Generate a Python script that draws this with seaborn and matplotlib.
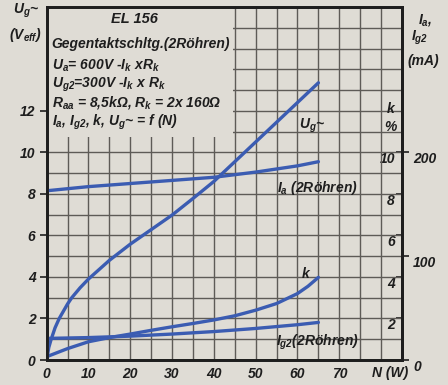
import numpy as np
import pandas as pd
import matplotlib
matplotlib.use('Agg')
import matplotlib.pyplot as plt
import seaborn as sns
from matplotlib.patches import Rectangle

# ---------------- data ----------------
n_ug = [0, 0.5, 1, 2, 3, 4, 5, 6, 8, 10, 15, 20, 25, 30, 35, 40, 45, 50, 55, 60, 65]
ug_veff = [0, 0.6, 0.95, 1.55, 2.0, 2.35, 2.7, 3.0, 3.48, 3.9, 4.8, 5.58, 6.28, 6.98, 7.78, 8.6, 9.55, 10.5, 11.45, 12.4, 13.35]

n_ia = [0, 10, 20, 30, 40, 50, 60, 65]
ia_ma = [163, 167, 170, 173, 176, 181, 187, 191]

n_k = [0, 5, 10, 15, 20, 25, 30, 35, 40, 45, 50, 55, 60, 62.5, 65]
k_pct = [0.16, 0.55, 0.88, 1.08, 1.25, 1.43, 1.6, 1.76, 1.93, 2.13, 2.4, 2.72, 3.2, 3.55, 3.98]

n_ig2 = [0, 10, 20, 30, 40, 50, 60, 65]
ig2_ma = [20.8, 21.6, 23.0, 25.0, 27.4, 30.4, 34.0, 36.2]

x_tick_vals = [0, 10, 20, 30, 40, 50, 60, 70]
x_tick_labels = ['0', '10', '20', '30', '40', '50', '60', '70']
ug_tick_vals = [0, 2, 4, 6, 8, 10, 12]
k_tick_vals = [2, 4, 6, 8, 10]
ma_tick_vals = [0, 100, 200]

info_lines = [
    'Gegentaktschltg.(2Röhren)',
    'U$_a$= 600V -I$_k$ xR$_k$',
    'U$_{g2}$=300V -I$_k$ x R$_k$',
    'R$_{aa}$ = 8,5kΩ, R$_k$ = 2x 160Ω',
    'I$_a$, I$_{g2}$, k, U$_g$~ = f (N)',
]

# ---------------- style ----------------
PAPER = '#dfdcd5'
BLUE = '#3b5cb2'
GRID = '#5e5b57'
INK = '#1e1e1e'

sns.set_theme(style='white')
FONT = 'Liberation Sans'
plt.rcParams['font.family'] = [FONT, 'DejaVu Sans']
plt.rcParams['font.style'] = 'italic'
plt.rcParams['font.weight'] = 'bold'
plt.rcParams['mathtext.fontset'] = 'custom'
plt.rcParams['mathtext.rm'] = FONT + ':italic:bold'
plt.rcParams['mathtext.it'] = FONT + ':italic:bold'
plt.rcParams['mathtext.bf'] = FONT + ':italic:bold'
plt.rcParams['text.color'] = INK
plt.rcParams['xtick.color'] = INK
plt.rcParams['ytick.color'] = INK
plt.rcParams['axes.axisbelow'] = True

FS = 10

fig = plt.figure(figsize=(4.48, 3.85), dpi=100, facecolor=PAPER)
ax = fig.add_axes([0.1042, 0.0649, 0.7931, 0.9169])
ax.set_facecolor(PAPER)

df_ug = pd.DataFrame({'N': n_ug, 'Ug': ug_veff})
df_k = pd.DataFrame({'N': n_k, 'k': k_pct})
df_ia = pd.DataFrame({'N': n_ia, 'Ia': ia_ma})
df_ig2 = pd.DataFrame({'N': n_ig2, 'Ig2': ig2_ma})

sns.lineplot(data=df_ug, x='N', y='Ug', ax=ax, color=BLUE, lw=2.4, zorder=3)
sns.lineplot(data=df_k, x='N', y='k', ax=ax, color=BLUE, lw=2.4, zorder=3)

ax.set_xlim(0, 85)
ax.set_ylim(0, 17)
ax.set_xlabel('')
ax.set_ylabel('')

ax.set_xticks(x_tick_vals)
ax.set_xticklabels(x_tick_labels)
ax.set_xticks(np.arange(0, 86, 5), minor=True)
ax.set_yticks(ug_tick_vals)
ax.set_yticks(np.arange(0, 18, 1), minor=True)
ax.grid(which='both', color=GRID, lw=1.0)
ax.tick_params(axis='x', which='both', length=0, pad=5, labelsize=FS)
ax.tick_params(axis='y', which='major', length=5, width=1.2, direction='out',
               pad=3, labelsize=FS, color=INK)
ax.tick_params(axis='y', which='minor', length=0)
for sp in ax.spines.values():
    sp.set_linewidth(2.0)
    sp.set_color(INK)

# text block covering grid
ax.add_patch(Rectangle((0, 10.72), 44.6, 17 - 10.72, facecolor=PAPER,
                       edgecolor='none', zorder=1))
ax.text(21, 16.44, 'EL 156', ha='center', va='center', fontsize=FS + 0.5, zorder=4)
for yv, line in zip([15.2, 14.18, 13.27, 12.4, 11.44], info_lines):
    ax.text(1.2, yv, line, ha='left', va='center', fontsize=FS, zorder=4)

# curve labels
ax.text(60.3, 11.3, 'U$_g$~', ha='left', va='center', fontsize=FS)
ax.text(55.1, 8.27, 'I$_a$ (2Röhren)', ha='left', va='center', fontsize=FS)
ax.text(62, 4.13, 'k', ha='center', va='center', fontsize=FS)
ax.text(54.8, 0.87, 'I$_{g2}$(2Röhren)', ha='left', va='center', fontsize=FS)
ax.text(82.2, 12.1, 'k', ha='center', va='center', fontsize=FS)
ax.text(82.2, 11.2, '%', ha='center', va='center', fontsize=FS)

# k (%) scale inside on the right
ax3 = ax.secondary_yaxis('right')
ax3.set_yticks(k_tick_vals)
ax3.tick_params(direction='in', length=4, width=1.2, pad=-5, labelsize=FS, color=INK)
for lbl in ax3.get_yticklabels():
    lbl.set_ha('right')
    lbl.set_va('top')
ax3.spines['right'].set_linewidth(2.0)
ax3.spines['right'].set_color(INK)

# mA scale on the right, outside
ax2 = ax.twinx()
sns.lineplot(data=df_ia, x='N', y='Ia', ax=ax2, color=BLUE, lw=2.4)
sns.lineplot(data=df_ig2, x='N', y='Ig2', ax=ax2, color=BLUE, lw=2.4)
ax2.set_ylim(0, 340)
ax2.set_xlim(0, 85)
ax2.set_ylabel('')
ax2.set_yticks(ma_tick_vals)
ax2.tick_params(axis='y', direction='out', length=5, width=1.2, pad=3, labelsize=FS, color=INK)
for lbl in ax2.get_yticklabels():
    lbl.set_va('top')
for sp in ax2.spines.values():
    sp.set_linewidth(2.0)
    sp.set_color(INK)

# axis titles
fig.text(0.058, 0.972, 'U$_g$~', ha='center', va='center', fontsize=FS)
fig.text(0.056, 0.909, '(V$_{eff}$)', ha='center', va='center', fontsize=FS)
fig.text(0.949, 0.948, 'I$_a$,', ha='center', va='center', fontsize=FS)
fig.text(0.9375, 0.901, 'I$_{g2}$', ha='center', va='center', fontsize=FS)
fig.text(0.946, 0.842, '(mA)', ha='center', va='center', fontsize=FS)
fig.text(0.8705, 0.031, 'N (W)', ha='center', va='center', fontsize=FS)

fig.savefig('out.png', dpi=100, facecolor=PAPER)
